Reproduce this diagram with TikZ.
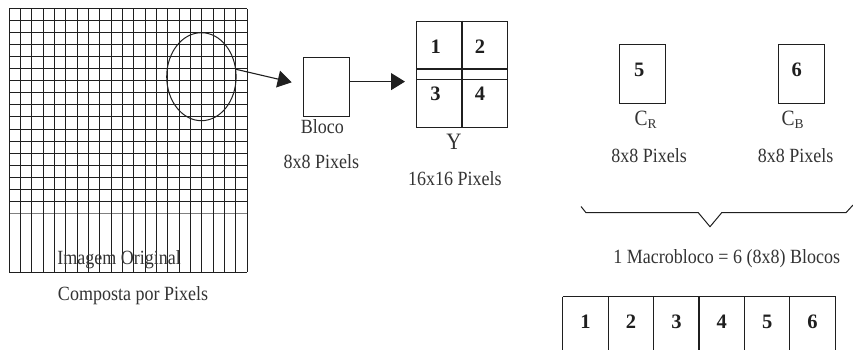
\documentclass[tikz,border=0pt]{standalone}
\usepackage{fontspec}
\usepackage{graphicx}
\setmainfont{Liberation Serif}
\usetikzlibrary{arrows.meta,shapes.geometric}
\definecolor{ink}{rgb}{0.12,0.12,0.12}
\definecolor{txt}{rgb}{0.2,0.2,0.2}
\newcommand\tallt[1]{\scalebox{1}[1.12]{#1}}
\begin{document}
\begin{tikzpicture}[x=1pt,y=-1pt,
  lbl/.style={anchor=base,inner sep=0,text=txt,font=\fontsize{18}{20}\selectfont},
  num/.style={anchor=base,inner sep=0,text=ink,font=\fontsize{20.5}{22}\selectfont\bfseries},
  box/.style={draw=ink,line width=1.1pt,rectangle,inner sep=0,anchor=north west},
  cell/.style={rectangle,inner sep=0,anchor=north west,minimum width=45.4pt,minimum height=50pt,text=ink,font=\fontsize{20.5}{22}\selectfont\bfseries},
  arr/.style={draw=ink,line width=1.1pt,-{Triangle[length=14pt,width=17pt]}},
  gridline/.style={draw=ink,line width=1pt}]
\useasboundingbox (0,0) rectangle (853,350);
% pixel grid
\foreach \i in {0,...,16} \draw[gridline] (9,{9+12*\i}) -- (247,{9+12*\i});
\draw[gray,line width=0.8pt] (9,213) -- (247,213);
\draw[gridline] (9,272) -- (247,272);
\foreach \i in {0,...,21} \draw[gridline] ({9+238/21*\i},9) -- ({9+238/21*\i},272);
\node[lbl] (orig) at (119.2,264) {\tallt{Imagem Original}};
\node[lbl] (comp) at (133,300) {\tallt{Composta por Pixels}};
% ellipse
\node[ellipse,draw=ink,line width=1pt,minimum width=69.4pt,minimum height=88pt,inner sep=0] (ell) at (201.4,76.7) {};
% bloco
\node[box,minimum width=46.3pt,minimum height=59.3pt] (blo) at (302.7,56.7) {};
\node[lbl] (blot) at (322.3,133.3) {\tallt{Bloco}};
\node[lbl] (blop) at (321.3,168.3) {\tallt{8x8 Pixels}};
\draw[arr] (ell.12) -- ([xshift=-11pt,yshift=4.6pt]blo.west);
% Y macroblock
\node[box,line width=1.4pt,minimum width=90.7pt,minimum height=106.3pt] (Y) at (416,20.7) {};
\draw[ink,line width=1.4pt] (Y.north) -- (Y.south);
\draw[ink,line width=1.2pt] (Y.west |- 0,69) -- (Y.east |- 0,69);
\draw[ink,line width=1.2pt] (Y.west |- 0,79.3) -- (Y.east |- 0,79.3);
\node[num] (y1) at (435.7,54) {1};
\node[num] (y2) at (480,54) {2};
\node[num] (y3) at (435.5,100.7) {3};
\node[num] (y4) at (480,100.7) {4};
\node[lbl,font=\fontsize{21}{22}\selectfont] (yt) at (454,149.3) {\tallt{Y}};
\node[lbl] (yp) at (454.8,185) {\tallt{16x16 Pixels}};
\draw[arr,shorten >=11pt] ([yshift=5.3pt]blo.east) -- ([yshift=5.3pt]blo.east -| Y.west);
% Cr and Cb
\node[box,minimum width=46pt,minimum height=59pt] (b5) at (619,44.3) {};
\node[box,minimum width=46pt,minimum height=59pt] (b6) at (777.7,44.3) {};
\node[num] (n5) at (639.3,76.7) {5};
\node[num] (n6) at (796.7,76.7) {6};
\node[lbl,font=\fontsize{19.5}{21}\selectfont] (cr) at (645.5,125) {\tallt{C}\raisebox{-3.5pt}{\fontsize{13.5}{14}\selectfont R}};
\node[lbl,font=\fontsize{19.5}{21}\selectfont] (cb) at (792.5,125) {\tallt{C}\raisebox{-3.5pt}{\fontsize{13.5}{14}\selectfont B}};
\node[lbl] (crp) at (649,162.7) {\tallt{8x8 Pixels}};
\node[lbl] (cbp) at (795.7,162.7) {\tallt{8x8 Pixels}};
% brace
\draw[ink,line width=1pt] (581,206.5) -- (586,212.7) -- (698.3,212.7) -- (710,226.7) -- (721.7,212.7) -- (846,212.7) -- (853,205);
\node[lbl] (macro) at (726.7,263.3) {\tallt{1 Macrobloco = 6 (8x8) Blocos}};
% row of six blocks
\foreach \k in {1,...,6} \node[cell] (c\k) at ({562.7+45.4*(\k-1)},296.7) {\k};
\draw[ink,line width=1.2pt] (c1.north west) -- (c6.north east);
\foreach \k in {1,...,6} \draw[ink,line width=1.2pt] (c\k.north west) -- ++(0,53.3);
\draw[ink,line width=1.2pt] (c6.north east) -- ++(0,53.3);
\end{tikzpicture}
\end{document}
